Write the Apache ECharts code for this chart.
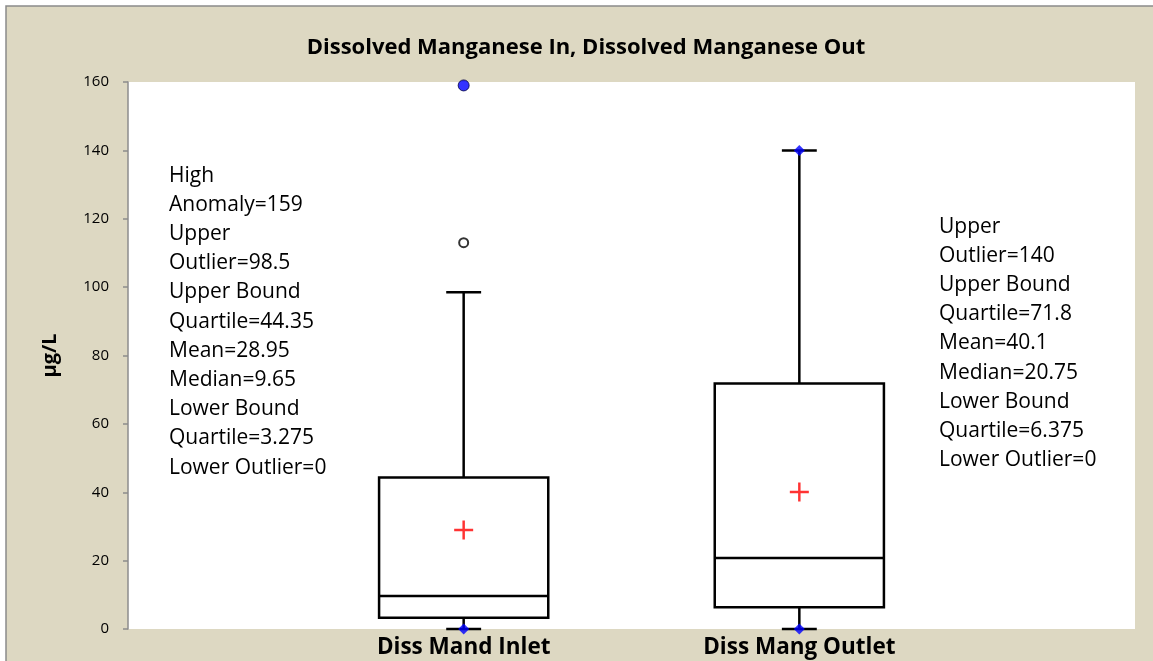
<!DOCTYPE html>
<html>
<head>
<meta charset="utf-8">
<script src="https://cdn.jsdelivr.net/npm/echarts@6/dist/echarts.min.js"></script>
<style>
  html, body { margin: 0; padding: 0; background: #fff; }
  #chart { width: 1153px; height: 661px; }
</style>
</head>
<body>
<div id="chart"></div>
<script>
// box plot values
const categories = ['Diss Mand Inlet', 'Diss Mang Outlet'];
const positions = [1, 2];
const lowWhisker = [0, 0];
const lowerQuartile = [3.275, 6.375];
const median = [9.65, 20.75];
const upperQuartile = [44.35, 71.8];
const highWhisker = [98.5, 140];
const means = [28.95, 40.1];
const outliers = [[1, 113]];
const anomalies = [[1, 159]];
const whiskerMarks = [[1, 0], [2, 0], [2, 140]];
const yTicks = [0, 20, 40, 60, 80, 100, 120, 140, 160];

const leftNote = [
  'High', 'Anomaly=159', 'Upper', 'Outlier=98.5', 'Upper Bound', 'Quartile=44.35',
  'Mean=28.95', 'Median=9.65', 'Lower Bound', 'Quartile=3.275', 'Lower Outlier=0'
];
const rightNote = [
  'Upper', 'Outlier=140', 'Upper Bound', 'Quartile=71.8', 'Mean=40.1',
  'Median=20.75', 'Lower Bound', 'Quartile=6.375', 'Lower Outlier=0'
];

const font = '"Open Sans", "Liberation Sans", sans-serif';
const boxWidth = 0.504;
const capWidth = 0.104;

const boxData = positions.map((p, i) => [p, lowWhisker[i], lowerQuartile[i], median[i], upperQuartile[i], highWhisker[i]]);
const meanData = positions.map((p, i) => [p, means[i]]);

const chart = echarts.init(document.getElementById('chart'));

const renderBox = (params, api) => {
  const x = api.value(0);
  const lo = api.coord([x, api.value(1)]);
  const q1 = api.coord([x, api.value(2)]);
  const md = api.coord([x, api.value(3)]);
  const q3 = api.coord([x, api.value(4)]);
  const hi = api.coord([x, api.value(5)]);
  const half = api.size([boxWidth, 0])[0] / 2;
  const cap = api.size([capWidth, 0])[0] / 2;
  const st = { stroke: '#000', lineWidth: 2.5, fill: null };
  const line = (x1, y1, x2, y2) => ({ type: 'line', shape: { x1, y1, x2, y2 }, style: st });
  return {
    type: 'group',
    children: [
      { type: 'rect', shape: { x: q3[0] - half, y: q3[1], width: half * 2, height: q1[1] - q3[1] }, style: st },
      line(md[0] - half, md[1], md[0] + half, md[1]),
      line(q1[0], q1[1], lo[0], lo[1]),
      line(q3[0], q3[1], hi[0], hi[1]),
      line(lo[0] - cap, lo[1], lo[0] + cap, lo[1]),
      line(hi[0] - cap, hi[1], hi[0] + cap, hi[1])
    ]
  };
};

const option = {
  backgroundColor: '#fff',
  animation: false,
  title: {
    text: 'Dissolved Manganese In, Dissolved Manganese Out',
    left: 581,
    textAlign: 'center',
    top: 32,
    textStyle: { fontFamily: font, fontSize: 22, fontWeight: 'bold', color: '#000' }
  },
  graphic: [
    {
      type: 'rect', z: -10, silent: true,
      shape: { x: 6, y: 6, width: 1170, height: 680 },
      style: { fill: '#ddd8c2', stroke: '#8a8a8a', lineWidth: 1.5 }
    },
    {
      type: 'text', left: 169, top: 161, z: 10,
      style: { text: leftNote.join('\n'), font: '21px ' + font, fill: '#000', lineHeight: 29.2 }
    },
    {
      type: 'text', left: 939, top: 212, z: 10,
      style: { text: rightNote.join('\n'), font: '21px ' + font, fill: '#000', lineHeight: 29.2 }
    }
  ],
  grid: {
    left: 128, top: 82, width: 1007, height: 547,
    show: true, backgroundColor: '#fff', borderWidth: 0
  },
  xAxis: {
    type: 'value', min: 0, max: 3, interval: 1,
    axisLine: { show: false }, axisTick: { show: false }, splitLine: { show: false },
    axisLabel: {
      margin: 7,
      fontFamily: font, fontSize: 22.5, fontWeight: 'bold', color: '#000',
      formatter: v => categories[positions.indexOf(v)] || ''
    }
  },
  yAxis: {
    type: 'value', min: yTicks[0], max: yTicks[yTicks.length - 1], interval: 20,
    name: 'µg/L', nameLocation: 'middle', nameRotate: 90, nameGap: 68,
    nameTextStyle: { fontFamily: font, fontSize: 20, fontWeight: 'bold', color: '#000' },
    axisLine: { show: true, lineStyle: { color: '#8c8c8c', width: 1.5 } },
    axisTick: { show: true, length: 5, lineStyle: { color: '#8c8c8c', width: 1.5 } },
    splitLine: { show: false },
    axisLabel: { margin: 19, fontFamily: font, fontSize: 15, color: '#000' }
  },
  series: [
    { type: 'custom', renderItem: renderBox, data: boxData, z: 2 },
    {
      type: 'scatter', data: whiskerMarks, symbol: 'diamond', symbolSize: 11, z: 5,
      itemStyle: { color: '#0000ff' }
    },
    {
      type: 'scatter', data: anomalies, symbol: 'circle', symbolSize: 11, z: 5,
      itemStyle: { color: '#0000ff', borderColor: '#000040', borderWidth: 1 }
    },
    {
      type: 'scatter', data: outliers, symbol: 'circle', symbolSize: 9, z: 5,
      itemStyle: { color: '#fff', borderColor: '#000', borderWidth: 2 }
    },
    {
      type: 'scatter', data: meanData, z: 5,
      symbol: 'path://M0,8.7L20,8.7L20,11.3L0,11.3Z M8.7,0L11.3,0L11.3,20L8.7,20Z', symbolSize: 19,
      itemStyle: { color: '#ff0000' }
    }
  ]
};

chart.setOption(option);
</script>
</body>
</html>
